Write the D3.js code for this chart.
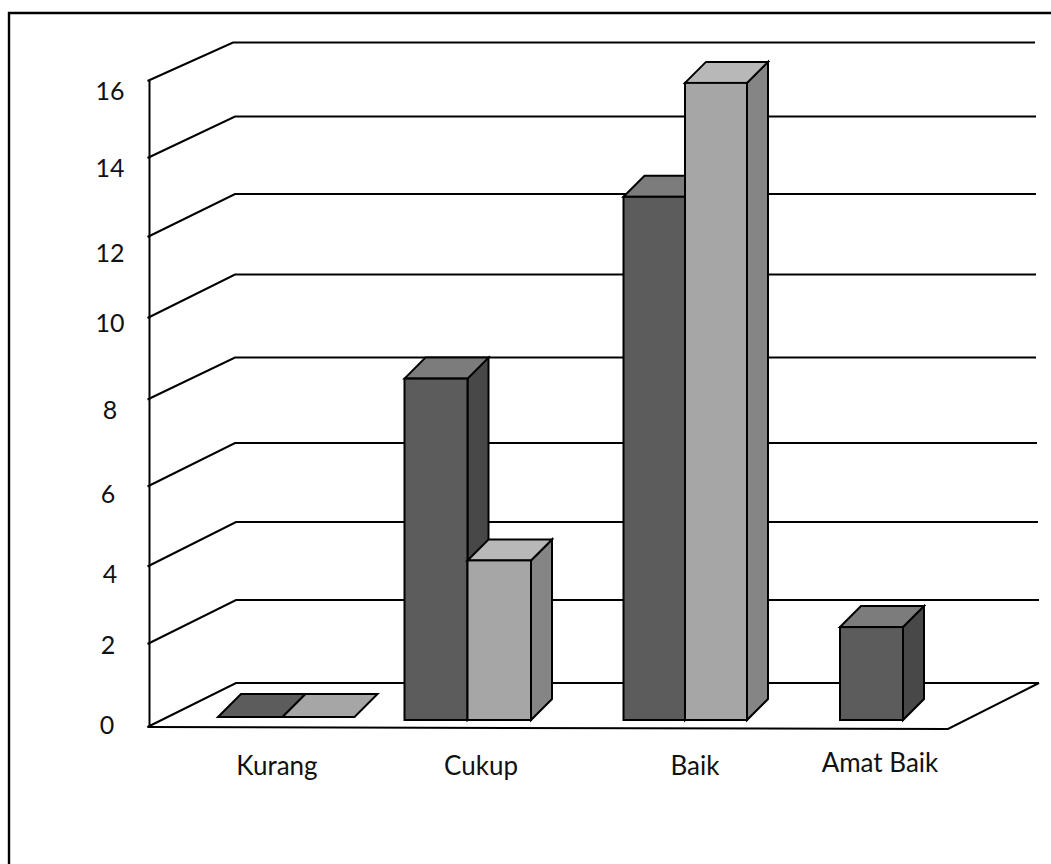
<!DOCTYPE html>
<html>
<head>
<meta charset="utf-8">
<style>
  html, body { margin: 0; padding: 0; background: #fff; }
  svg { display: block; }
  text { font-family: Lato, "Open Sans", sans-serif; fill: #111; }
</style>
<script src="https://cdnjs.cloudflare.com/ajax/libs/d3/7.8.5/d3.min.js"></script>
</head>
<body>
<div id="chart"></div>
<script>
// Values per assessment category
const categories = ["Kurang", "Cukup", "Baik", "Amat Baik"];
const seriesDark = [0, 8.45, 12.95, 2.3];
const seriesLight = [0, 3.95, 15.77, null];
const tickValues = [0, 2, 4, 6, 8, 10, 12, 14, 16];

const width = 1051, height = 864;

// The wall and floor of the 3D box are hand-tuned per tick
const frontWallY = [727, 644, 566.5, 486.5, 399.5, 318, 237, 158, 81];
const backWallY = [683, 600, 522, 443, 357.5, 274.5, 194, 116.5, 42.5];
const backWallX = [236, 236, 236, 235, 235, 235, 235, 235, 233];
const wallRightX = [1039, 1039, 1038, 1037, 1036, 1036, 1036, 1036, 1035];
const tickLabelY = [725.5, 645.5, 574.5, 494, 410, 323, 253, 168, 91.5];
const tickLabelX = [107, 108, 110, 108, 110, 110, 110, 110, 110];
const frontX = 149.5, floorRightFront = 948, floorRightY = 729;

const yFront = d3.scaleLinear().domain(tickValues).range(frontWallY);
const yBack = d3.scaleLinear().domain(tickValues).range(backWallY);
const yLabel = d3.scaleLinear().domain(tickValues).range(tickLabelY);

// Bars stand on a plane set slightly behind the front edge of the floor
const barBase = 720, pxPerUnit = 40.4, barDepth = 21;
const yBar = d3.scaleLinear().domain([0, 16]).range([barBase, barBase - 16 * pxPerUnit]);

const barStarts = [218, 404.5, 623.5, 840];
const barWidths = [64.5, 63, 61.5, 63];

const svg = d3.select("#chart").append("svg").attr("width", width).attr("height", height);

// Frame: only the top and left edges fall inside the page
svg.append("path")
  .attr("d", `M${width},13H9V${height}`)
  .attr("fill", "none").attr("stroke", "#000").attr("stroke-width", 2.4);

const ink = "#000";
const lines = svg.append("g").attr("stroke", ink).attr("stroke-width", 2).attr("fill", "none");

// Gridlines: slanted on the side wall, then straight along the back wall
lines.selectAll("path.grid").data(tickValues).join("path")
  .attr("class", "grid")
  .attr("d", (d, i) => `M${frontX - 2},${yFront(d)}L${backWallX[i]},${yBack(d)}L${wallRightX[i]},${yBack(d)}`);

// Value axis
lines.append("line")
  .attr("x1", frontX).attr("x2", frontX)
  .attr("y1", yFront(16)).attr("y2", yFront(0));

// Floor front edge and its slanted right side
lines.append("path")
  .attr("d", `M${frontX - 2},${yFront(0)}L${floorRightFront},${floorRightY}L${wallRightX[0]},${yBack(0)}`);

// Tick labels
svg.append("g").selectAll("text").data(tickValues).join("text")
  .attr("x", (d, i) => tickLabelX[i])
  .attr("y", d => yLabel(d))
  .attr("dy", "0.35em")
  .attr("text-anchor", "middle")
  .attr("font-size", 25)
  .text(d => d);

// Category labels
const catLabelX = [277, 481, 695, 880];
const catLabelY = [766, 766, 766, 763];
svg.append("g").selectAll("text").data(categories).join("text")
  .attr("x", (d, i) => catLabelX[i])
  .attr("y", (d, i) => catLabelY[i])
  .attr("dy", "0.35em")
  .attr("text-anchor", "middle")
  .attr("font-size", 26)
  .text(d => d);

// One 3D bar: right side, top, and front faces; an empty bar shows only a flat top
function drawBar(g, x0, w, value, colors, lift) {
  const base = barBase - lift;
  const top = yBar(value) - lift;
  const depth = value > 0 ? barDepth : 23;
  const face = g.append("g").attr("stroke", ink).attr("stroke-width", 2).attr("stroke-linejoin", "miter");
  if (value > 0) {
    face.append("path").attr("fill", colors.side)
      .attr("d", `M${x0 + w},${top}L${x0 + w + depth},${top - depth}L${x0 + w + depth},${base - depth}L${x0 + w},${base}Z`);
  }
  face.append("path").attr("fill", value > 0 ? colors.top : colors.front)
    .attr("d", `M${x0},${top}L${x0 + depth},${top - depth}L${x0 + w + depth},${top - depth}L${x0 + w},${top}Z`);
  if (value > 0) {
    face.append("rect").attr("fill", colors.front)
      .attr("x", x0).attr("y", top).attr("width", w).attr("height", base - top);
  }
}

const darkColors = { front: "#5c5c5c", top: "#7c7c7c", side: "#484848" };
const lightColors = { front: "#a6a6a6", top: "#b8b8b8", side: "#858585" };

// Dark bars sit behind their lighter neighbour in each cluster
const bars = svg.append("g");
categories.forEach((c, i) => {
  const x0 = barStarts[i], w = barWidths[i];
  const isEmpty = seriesDark[i] === 0;
  const lift = isEmpty ? 3 : 0;
  drawBar(bars, x0, w, seriesDark[i], darkColors, lift);
  if (seriesLight[i] !== null) {
    drawBar(bars, x0 + w, isEmpty ? 72 : w + 0.5, seriesLight[i], lightColors, lift);
  }
});
</script>
</body>
</html>
